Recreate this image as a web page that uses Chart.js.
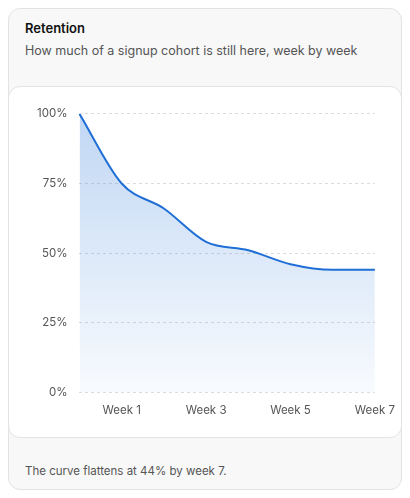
<!DOCTYPE html>
<html><head><meta charset="utf-8">
<script src="https://cdn.jsdelivr.net/npm/chart.js@4"></script>
<style>
html,body{margin:0;padding:0;background:#fff;font-family:Inter,"Noto Sans",sans-serif;}
.card{position:absolute;left:8px;top:8px;width:392px;height:480px;background:#f8f8f8;border:1px solid #e3e3e3;border-radius:12px;}
.title{position:absolute;left:16px;top:11px;font-size:13px;font-weight:600;color:#111;}
.sub{position:absolute;left:16px;top:34px;font-size:12.5px;color:#555;}
.inner{position:absolute;left:-1px;top:77px;width:392px;height:350px;background:#fff;border:1px solid #e3e3e3;border-radius:12px;}
.foot{position:absolute;left:16px;top:455px;font-size:11.5px;color:#555;}
canvas{position:absolute;left:0;top:0;}
</style></head><body>
<div class="card">
<div class="title">Retention</div>
<div class="sub">How much of a signup cohort is still here, week by week</div>
<div class="inner"><div style="position:absolute;left:16px;top:8px;width:373px;height:325px"><canvas id="c"></canvas></div></div>
<div class="foot">The curve flattens at 44% by week 7.</div>
</div>
<script>
const weeks=["Week 0","Week 1","Week 2","Week 3","Week 4","Week 5","Week 6","Week 7"];
const retention=[100,75,66,54,51,46,44,44];
const yTicks=[0,25,50,75,100];
const ctx=document.getElementById('c');
const ch=new Chart(ctx,{type:'line',data:{labels:weeks,datasets:[{data:retention,borderColor:'#1f6fd6',borderWidth:2,pointRadius:0,tension:0.4,cubicInterpolationMode:'monotone',fill:true,
backgroundColor:(c)=>{const a=c.chart.chartArea;if(!a)return 'rgba(31,111,214,0.2)';const g=c.chart.ctx.createLinearGradient(0,a.top,0,a.bottom);g.addColorStop(0,'rgba(31,111,214,0.28)');g.addColorStop(1,'rgba(31,111,214,0.03)');return g;}}]},
options:{responsive:true,maintainAspectRatio:false,animation:false,layout:{padding:{right:8}},plugins:{legend:{display:false},tooltip:{enabled:false}},
scales:{x:{grid:{display:false},border:{display:false},ticks:{color:'#555',font:{family:'Inter',size:11.5},autoSkip:false,maxRotation:0,callback:(v,i)=>i%2?weeks[i]:''}},
y:{min:0,max:100,afterBuildTicks:(s)=>{s.ticks=yTicks.map(v=>({value:v}));},grid:{color:'#ddd',drawTicks:false,tickLength:0},border:{display:false,dash:[3,3]},
ticks:{color:'#555',padding:12,font:{family:'Inter',size:11.5},callback:v=>v+'%'}}}}});
</script>
</body></html>
